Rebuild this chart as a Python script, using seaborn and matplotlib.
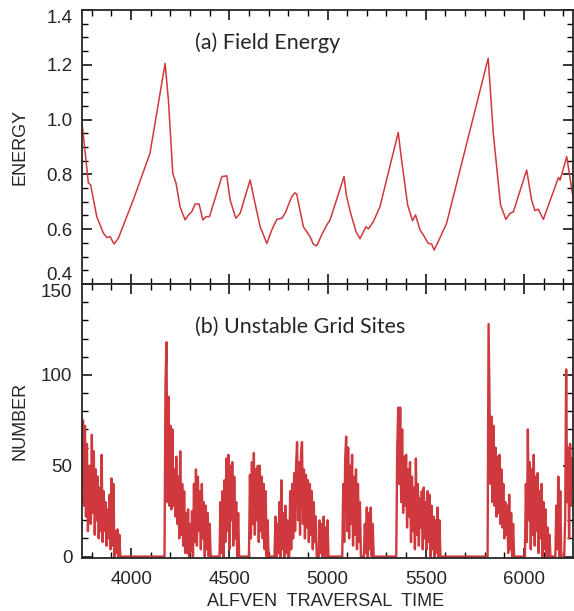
import numpy as np
import pandas as pd
import matplotlib
matplotlib.use("Agg")
import matplotlib.pyplot as plt
from matplotlib.ticker import MultipleLocator
import seaborn as sns

# (a) field energy
energy_t = [3750, 3770, 3782, 3794, 3825, 3859, 3876, 3893, 3913, 3935, 4011, 4096, 4173, 4190,
            4212, 4229, 4249, 4275, 4292, 4309, 4326, 4346, 4365, 4382, 4399, 4462, 4487, 4504,
            4533, 4555, 4606, 4631, 4657, 4691, 4716, 4742, 4767, 4784, 4818, 4835, 4843, 4877,
            4911, 4928, 4945, 4970, 4996, 5013, 5084, 5097, 5118, 5145, 5165, 5196, 5208, 5233,
            5267, 5360, 5377, 5408, 5433, 5448, 5471, 5488, 5513, 5530, 5543, 5569, 5606, 5818,
            5844, 5881, 5908, 5929, 5946, 6014, 6039, 6056, 6073, 6099, 6125, 6176, 6184, 6218,
            6252]
energy = [0.986, 0.853, 0.770, 0.761, 0.646, 0.585, 0.570, 0.573, 0.546, 0.567, 0.707, 0.877,
          1.205, 1.07, 0.804, 0.767, 0.682, 0.634, 0.652, 0.664, 0.692, 0.692, 0.634, 0.646,
          0.646, 0.792, 0.795, 0.707, 0.640, 0.658, 0.780, 0.694, 0.609, 0.548, 0.597, 0.636,
          0.640, 0.658, 0.719, 0.733, 0.728, 0.609, 0.573, 0.545, 0.539, 0.579, 0.615, 0.634,
          0.792, 0.719, 0.658, 0.591, 0.565, 0.609, 0.601, 0.627, 0.682, 0.953, 0.853, 0.688,
          0.631, 0.652, 0.597, 0.579, 0.548, 0.546, 0.524, 0.563, 0.621, 1.224, 0.950, 0.688,
          0.636, 0.658, 0.663, 0.816, 0.707, 0.668, 0.673, 0.636, 0.688, 0.789, 0.779, 0.865,
          0.707]

# (b) unstable grid sites: bursts sampled every 5 time units (start time, values)
step = 5
bursts = [
    (3750, [60, 75, 28, 72, 22, 62, 14, 30, 50, 18, 67, 24, 58, 12, 48, 20, 44, 10, 38, 14, 56, 8,
            36, 14, 30, 6, 26, 10, 34, 4, 43, 6, 40, 0, 14, 2, 15, 0, 12, 0]),
    (4170, [0, 95, 118, 30, 88, 28, 72, 26, 70, 28, 48, 22, 55, 18, 44, 10, 58, 12, 40, 6, 36, 2,
            24, 2, 26, 0, 18, 3, 25, 0, 40, 8, 48, 6, 44, 14, 36, 4, 40, 10, 30, 0, 28, 4, 24, 0,
            18, 0]),
    (4450, [0, 30, 2, 36, 0, 42, 8, 54, 14, 56, 4, 50, 20, 52, 6, 44, 10, 30, 0, 24, 0]),
    (4600, [0, 45, 10, 52, 18, 57, 12, 48, 20, 50, 8, 50, 14, 44, 10, 40, 4, 36, 0, 20, 0]),
    (4730, [0, 22, 0, 18, 2, 30, 0, 42, 4, 24, 0, 28, 2, 20, 0, 0, 36, 4, 40, 10, 46, 14, 50,
            63, 20, 52, 12, 56, 63, 18, 48, 10, 45, 16, 42, 8, 40, 12, 36, 4, 30, 8, 22, 0, 0]),
    (4955, [0, 20, 2, 18, 0, 22, 0, 16, 0, 20, 0]),
    (5075, [0, 40, 8, 54, 66, 14, 60, 10, 50, 18, 56, 6, 44, 12, 48, 4, 40, 8, 30, 0]),
    (5185, [0, 18, 2, 27, 0, 24, 4, 27, 0, 18, 0]),
    (5350, [0, 60, 82, 40, 82, 30, 70, 24, 55, 28, 56, 16, 48, 22, 52, 8, 44, 14, 38, 4, 54, 12,
            40, 6, 32, 16, 36, 4, 38, 10, 30, 4, 36, 8, 34, 0, 28, 4, 22, 0, 20, 2, 27, 0, 20, 0]),
    (5815, [0, 128, 84, 40, 77, 30, 72, 28, 60, 22, 55, 24, 56, 18, 48, 16, 40, 10, 30, 12, 28, 2,
            34, 4, 24, 0, 18, 0]),
    (6005, [0, 40, 8, 70, 20, 52, 4, 48, 12, 56, 6, 44, 14, 46, 2, 36, 10, 40, 0, 30, 4, 26, 0,
            16, 0, 12, 0]),
    (6160, [0, 28, 4, 44, 0, 36, 0]),
    (6205, [0, 20, 103, 30, 60, 10, 62, 28, 54, 40]),
]

red = "#cf383d"

rows = []
for start, vals in bursts:
    for i, v in enumerate(vals):
        rows.append((start + i * step, v))
sites = pd.DataFrame(rows, columns=["time", "number"])
field = pd.DataFrame({"time": energy_t, "energy": energy})

sns.set_style("ticks")
plt.rcParams["font.family"] = ["Liberation Sans", "DejaVu Sans"]
plt.rcParams["axes.linewidth"] = 1.3

fig = plt.figure(figsize=(5.74, 6.11), dpi=100)
ax1 = fig.add_axes([0.1429, 0.5352, 0.8554, 0.4484])
ax2 = fig.add_axes([0.1429, 0.0867, 0.8554, 0.4484])

sns.lineplot(data=field, x="time", y="energy", ax=ax1, color=red, lw=1.1,
             estimator=None, sort=False)
sns.lineplot(data=sites, x="time", y="number", ax=ax2, color=red, lw=1.7,
             estimator=None, sort=False)

for ax in (ax1, ax2):
    ax.set_xlim(3750, 6250)
    ax.xaxis.set_major_locator(MultipleLocator(500))
    ax.xaxis.set_minor_locator(MultipleLocator(100))
    ax.tick_params(which="both", direction="in", top=True, right=True,
                   labelsize=13.5, color="black")
    ax.tick_params(which="major", length=7.5, width=1.1)
    ax.tick_params(which="minor", length=4, width=1.0)
    ax.tick_params(axis="y", pad=7)
    ax.tick_params(axis="x", pad=9)
    for s in ax.spines.values():
        s.set_linewidth(1.3)

ax1.set_ylim(0.4, 1.4)
ax1.set_yticks([0.4, 0.6, 0.8, 1.0, 1.2, 1.4])
ax1.set_yticklabels(["0.4", "0.6", "0.8", "1.0", "1.2", "1.4"])
ax1.yaxis.set_minor_locator(MultipleLocator(0.05))
ax1.tick_params(axis="x", labelbottom=False)
ax1.set_xlabel("")
ax1.set_ylabel("ENERGY", fontsize=13)
ax1.yaxis.set_label_coords(-0.108, 0.5)

ax2.set_ylim(-0.8, 150)
ax2.set_yticks([0, 50, 100, 150])
ax2.set_yticklabels(["0", "50", "100", "150"])
ax2.yaxis.set_minor_locator(MultipleLocator(10))
ax2.set_ylabel("NUMBER", fontsize=13)
ax2.yaxis.set_label_coords(-0.108, 0.5)
ax2.set_xlabel("ALFVEN  TRAVERSAL  TIME", fontsize=13)
ax2.xaxis.set_label_coords(0.496, -0.128)

# keep end labels inside the panel like the original
t1 = ax1.yaxis.get_major_ticks()
t1[0].label1.set_va("bottom")
t1[-1].label1.set_va("top")
t2 = ax2.yaxis.get_major_ticks()
t2[-1].label1.set_va("top")

ax1.text(0.23, 0.88, "(a) Field Energy", transform=ax1.transAxes, fontsize=15.5,
         va="center", ha="left", family=["Lato", "DejaVu Sans"])
ax2.text(0.23, 0.843, "(b) Unstable Grid Sites", transform=ax2.transAxes, fontsize=15.5,
         va="center", ha="left", family=["Lato", "DejaVu Sans"])

fig.savefig("out.png", dpi=100)
